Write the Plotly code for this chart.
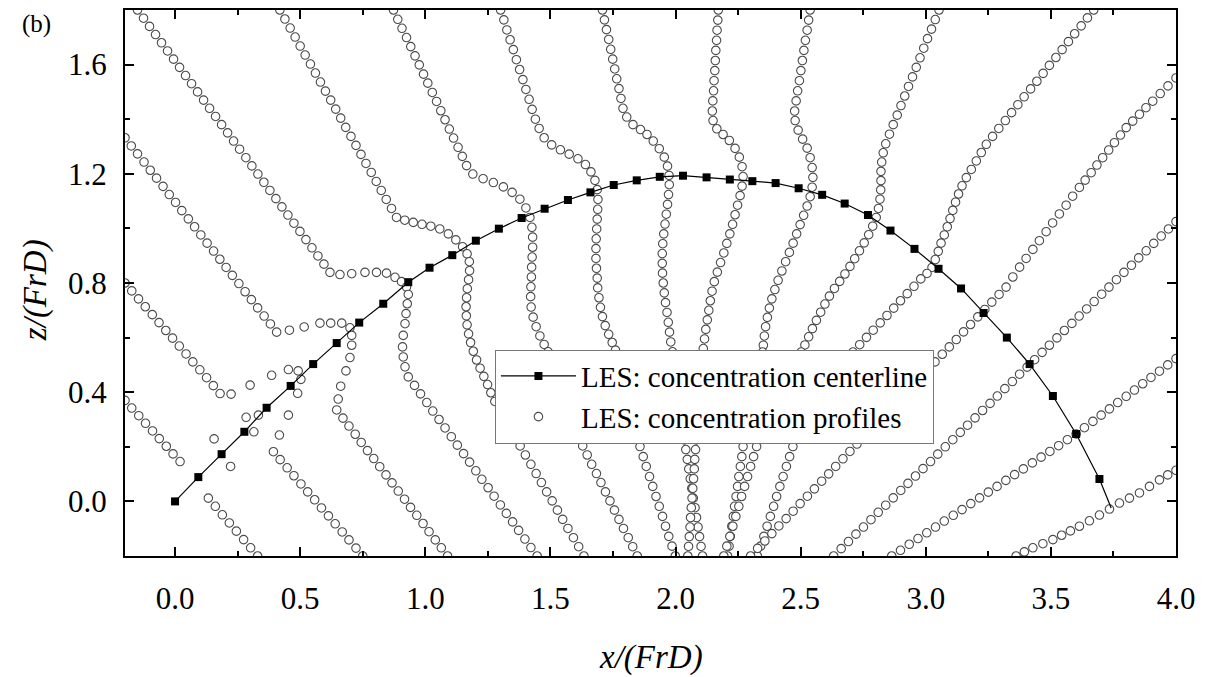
import plotly.graph_objects as go

# ---------------- centerline (LES concentration centerline) ----------------
cl_x = [0.000, 0.093, 0.186, 0.277, 0.366, 0.462, 0.552, 0.646, 0.736, 0.832, 0.932,
        1.017, 1.108, 1.202, 1.294, 1.385, 1.477, 1.570, 1.660, 1.753, 1.845, 1.937,
        2.030, 2.124, 2.217, 2.307, 2.400, 2.492, 2.586, 2.676, 2.769, 2.859, 2.955,
        3.051, 3.141, 3.231, 3.324, 3.415, 3.508, 3.601, 3.694]
cl_z = [0.000, 0.089, 0.173, 0.255, 0.343, 0.423, 0.503, 0.580, 0.655, 0.724, 0.803,
        0.856, 0.902, 0.955, 0.999, 1.038, 1.072, 1.104, 1.132, 1.159, 1.176, 1.189,
        1.193, 1.187, 1.179, 1.173, 1.166, 1.147, 1.123, 1.091, 1.049, 0.992, 0.925,
        0.852, 0.780, 0.690, 0.600, 0.503, 0.386, 0.247, 0.082]
cl_tail_x = [3.694, 3.741]
cl_tail_z = [0.082, -0.024]

# ---------------- concentration profiles (circles) ----------------
pc_x = [-0.200, -0.173, -0.145, -0.118, -0.090, -0.063, -0.035, -0.008, 0.020,
        0.156, 0.284, 0.333, 0.315, 0.222,
        0.133, 0.161, 0.189, 0.217, 0.245, 0.274, 0.302, 0.330]
pc_z = [0.370, 0.342, 0.314, 0.286, 0.258, 0.230, 0.202, 0.174, 0.146,
        0.229, 0.308, 0.316, 0.255, 0.128,
        0.012, -0.018, -0.049, -0.079, -0.109, -0.140, -0.170, -0.200]

pb_x = [-0.200, -0.173, -0.146, -0.119, -0.091, -0.064, -0.037, -0.010, 0.017, 0.044,
        0.071, 0.099, 0.126, 0.153, 0.180, 0.224,
        0.300, 0.386, 0.453, 0.492, 0.503, 0.490, 0.453, 0.417,
        0.393, 0.420, 0.448, 0.475, 0.503, 0.530, 0.558, 0.585, 0.613, 0.640, 0.668,
        0.695, 0.723, 0.750]
pb_z = [0.800, 0.771, 0.742, 0.713, 0.684, 0.655, 0.626, 0.598, 0.569, 0.540,
        0.511, 0.482, 0.453, 0.424, 0.395, 0.393,
        0.426, 0.462, 0.483, 0.478, 0.447, 0.396, 0.316, 0.243,
        0.182, 0.153, 0.123, 0.094, 0.064, 0.035, 0.006, -0.024, -0.053, -0.082, -0.112,
        -0.141, -0.171, -0.200]

pa_x = [-0.200, -0.175, -0.150, -0.124, -0.099, -0.074, -0.048, -0.023, 0.002, 0.027,
        0.053, 0.078, 0.103, 0.128, 0.154, 0.179, 0.204, 0.229, 0.255, 0.280,
        0.305, 0.330, 0.356, 0.381, 0.406,
        0.457, 0.516, 0.579, 0.622, 0.666, 0.699, 0.706, 0.706, 0.699, 0.683, 0.662, 0.652,
        0.646, 0.671, 0.695, 0.720, 0.744, 0.769, 0.794, 0.818, 0.843, 0.867, 0.892,
        0.917, 0.941, 0.966, 0.991, 1.015, 1.040, 1.064, 1.089]
pa_z = [1.332, 1.302, 1.273, 1.243, 1.213, 1.184, 1.154, 1.124, 1.095, 1.065,
        1.035, 1.006, 0.976, 0.946, 0.917, 0.887, 0.857, 0.828, 0.798, 0.768,
        0.739, 0.709, 0.679, 0.650, 0.620,
        0.627, 0.639, 0.653, 0.653, 0.653, 0.636, 0.608, 0.572, 0.527, 0.478, 0.422, 0.375,
        0.335, 0.305, 0.276, 0.246, 0.216, 0.186, 0.157, 0.127, 0.097, 0.068, 0.038,
        0.008, -0.022, -0.051, -0.081, -0.111, -0.141, -0.170, -0.200]

pd_x = [-0.150, -0.126, -0.102, -0.078, -0.054, -0.030, -0.006, 0.018, 0.042, 0.066,
        0.090, 0.114, 0.138, 0.162, 0.186, 0.210, 0.234, 0.258, 0.283, 0.307,
        0.331, 0.355, 0.379, 0.403, 0.427, 0.451, 0.475, 0.499, 0.523, 0.547,
        0.571, 0.595, 0.619,
        0.659, 0.706, 0.759, 0.805, 0.845, 0.879, 0.905, 0.925, 0.932, 0.928, 0.923,
        0.919, 0.912, 0.909, 0.912, 0.919, 0.932,
        0.957, 0.981, 1.006, 1.030, 1.055, 1.079, 1.104, 1.128, 1.153, 1.177, 1.202,
        1.226, 1.251, 1.275, 1.300, 1.324, 1.349, 1.373, 1.398, 1.422, 1.447]
pd_z = [1.800, 1.770, 1.740, 1.710, 1.680, 1.650, 1.620, 1.590, 1.560, 1.530,
        1.500, 1.470, 1.440, 1.410, 1.380, 1.350, 1.320, 1.290, 1.259, 1.229,
        1.199, 1.169, 1.139, 1.109, 1.079, 1.049, 1.019, 0.989, 0.959, 0.929,
        0.899, 0.869, 0.839,
        0.831, 0.834, 0.839, 0.839, 0.836, 0.821, 0.805, 0.785, 0.758, 0.724, 0.688,
        0.651, 0.608, 0.566, 0.529, 0.493, 0.456,
        0.425, 0.394, 0.362, 0.331, 0.300, 0.269, 0.237, 0.206, 0.175, 0.144, 0.112,
        0.081, 0.050, 0.019, -0.013, -0.044, -0.075, -0.106, -0.138, -0.169, -0.200]

pe_x = [0.419, 0.439, 0.460, 0.480, 0.500, 0.520, 0.541, 0.561, 0.581, 0.601,
        0.622, 0.642, 0.662, 0.682, 0.703, 0.723, 0.743, 0.763, 0.784, 0.804,
        0.824, 0.844, 0.865, 0.885,
        0.918, 0.952, 0.987, 1.022, 1.058, 1.092, 1.122, 1.149, 1.167, 1.176,
        1.177, 1.173, 1.168, 1.165, 1.163, 1.164, 1.167, 1.173, 1.181, 1.192,
        1.205, 1.219, 1.234, 1.249, 1.262, 1.278, 1.298, 1.318, 1.338,
        1.358, 1.379, 1.400, 1.422, 1.443, 1.464, 1.485, 1.507, 1.528, 1.549,
        1.570, 1.592, 1.613, 1.634]
pe_z = [1.800, 1.767, 1.734, 1.701, 1.668, 1.635, 1.602, 1.569, 1.536, 1.503,
        1.470, 1.437, 1.404, 1.370, 1.337, 1.304, 1.271, 1.238, 1.205, 1.172,
        1.139, 1.106, 1.073, 1.040,
        1.030, 1.022, 1.015, 1.008, 0.998, 0.980, 0.958, 0.933, 0.907, 0.878,
        0.845, 0.812, 0.779, 0.746, 0.713, 0.680, 0.647, 0.614, 0.582, 0.550,
        0.518, 0.488, 0.458, 0.428, 0.398, 0.366, 0.334, 0.302, 0.270,
        0.237, 0.203, 0.170, 0.136, 0.102, 0.069, 0.035, 0.002, -0.032, -0.066,
        -0.099, -0.133, -0.166, -0.200]

pf_x = [0.873, 0.890, 0.907, 0.925, 0.942, 0.959, 0.976, 0.993, 1.010, 1.028,
        1.045, 1.062, 1.079, 1.096, 1.113, 1.131, 1.148, 1.165,
        1.190, 1.231, 1.272, 1.312, 1.347, 1.378, 1.402, 1.418, 1.426, 1.429,
        1.429, 1.427, 1.425, 1.424, 1.422, 1.421, 1.423, 1.431, 1.443, 1.458,
        1.475, 1.491,
        1.508, 1.525, 1.543, 1.560, 1.575, 1.588, 1.598, 1.605, 1.609,
        1.611, 1.629, 1.647, 1.665, 1.684, 1.702, 1.720, 1.738, 1.756, 1.774,
        1.792, 1.811, 1.829, 1.847]
pf_z = [1.800, 1.766, 1.733, 1.699, 1.666, 1.632, 1.599, 1.565, 1.532, 1.498,
        1.465, 1.431, 1.398, 1.364, 1.331, 1.297, 1.264, 1.230,
        1.199, 1.182, 1.168, 1.152, 1.132, 1.107, 1.075, 1.040, 1.004, 0.968,
        0.931, 0.895, 0.858, 0.822, 0.786, 0.750, 0.712, 0.675, 0.640, 0.606,
        0.575, 0.548,
        0.518, 0.488, 0.458, 0.428, 0.398, 0.366, 0.334, 0.302, 0.270,
        0.237, 0.203, 0.170, 0.136, 0.102, 0.069, 0.035, 0.002, -0.032, -0.066,
        -0.099, -0.133, -0.166, -0.200]

pg_x = [1.301, 1.314, 1.326, 1.339, 1.352, 1.364, 1.377, 1.390, 1.402, 1.415, 1.427, 1.440,
        1.455, 1.475, 1.505, 1.540, 1.575, 1.610, 1.640, 1.662, 1.678, 1.687, 1.690,
        1.689, 1.687, 1.685, 1.683, 1.682, 1.682, 1.684, 1.687, 1.689, 1.694, 1.700,
        1.708, 1.719, 1.733, 1.747, 1.760,
        1.772, 1.784, 1.795, 1.805, 1.814, 1.822, 1.829, 1.835, 1.840,
        1.845, 1.858, 1.871, 1.883, 1.896, 1.909, 1.922, 1.935, 1.948, 1.960, 1.973,
        1.986, 1.999]
pg_z = [1.800, 1.764, 1.727, 1.691, 1.655, 1.618, 1.582, 1.545, 1.509, 1.473, 1.436, 1.400,
        1.366, 1.332, 1.306, 1.288, 1.272, 1.255, 1.234, 1.207, 1.176, 1.142, 1.106,
        1.070, 1.034, 0.998, 0.962, 0.926, 0.890, 0.854, 0.818, 0.782, 0.746, 0.711,
        0.677, 0.644, 0.612, 0.582, 0.554,
        0.522, 0.490, 0.457, 0.424, 0.391, 0.358, 0.325, 0.292, 0.262,
        0.237, 0.201, 0.164, 0.128, 0.091, 0.055, 0.018, -0.018, -0.055, -0.091, -0.128,
        -0.164, -0.200]

ph_x = [1.708, 1.716, 1.724, 1.733, 1.741, 1.749, 1.757, 1.765, 1.774, 1.782, 1.790,
        1.805, 1.830, 1.860, 1.886, 1.911, 1.935, 1.955, 1.968, 1.974, 1.975, 1.972,
        1.968, 1.963, 1.958, 1.953, 1.949, 1.947, 1.947, 1.948, 1.951, 1.955, 1.960,
        1.966, 1.971, 1.976, 1.981, 1.988,
        1.993, 1.998, 2.004, 2.010, 2.016, 2.022, 2.027, 2.031,
        2.035, 2.041, 2.047, 2.053, 2.059, 2.065, 2.071, 2.078, 2.084, 2.090, 2.096,
        2.102, 2.108]
ph_z = [1.800, 1.764, 1.728, 1.692, 1.656, 1.620, 1.584, 1.548, 1.512, 1.476, 1.440,
        1.408, 1.380, 1.362, 1.344, 1.320, 1.292, 1.261, 1.228, 1.194, 1.160, 1.124,
        1.088, 1.052, 1.016, 0.980, 0.944, 0.908, 0.872, 0.836, 0.800, 0.764, 0.728,
        0.692, 0.656, 0.620, 0.584, 0.548,
        0.512, 0.476, 0.440, 0.404, 0.368, 0.332, 0.296, 0.260,
        0.225, 0.190, 0.154, 0.119, 0.083, 0.048, 0.012, -0.023, -0.059, -0.094, -0.129,
        -0.165, -0.200]

pi_x = [2.171, 2.169, 2.166, 2.164, 2.161, 2.159, 2.157, 2.154, 2.152, 2.149, 2.147,
        2.150, 2.165, 2.190, 2.215, 2.238, 2.255, 2.266, 2.270, 2.266, 2.258, 2.248,
        2.238, 2.228, 2.217, 2.205, 2.193, 2.180, 2.167, 2.155, 2.146, 2.139, 2.133,
        2.127, 2.121, 2.116, 2.111,
        2.108, 2.105, 2.102, 2.099, 2.096, 2.093, 2.090, 2.087, 2.085,
        2.083, 2.080, 2.077, 2.075, 2.072, 2.069, 2.066, 2.063, 2.060, 2.058, 2.055,
        2.052, 2.049]
pi_z = [1.800, 1.763, 1.726, 1.689, 1.652, 1.615, 1.578, 1.541, 1.504, 1.467, 1.430,
        1.395, 1.365, 1.344, 1.322, 1.293, 1.261, 1.226, 1.190, 1.155, 1.120, 1.085,
        1.050, 1.015, 0.980, 0.945, 0.910, 0.875, 0.840, 0.805, 0.770, 0.735, 0.700,
        0.665, 0.630, 0.595, 0.560,
        0.525, 0.490, 0.455, 0.420, 0.385, 0.350, 0.315, 0.280, 0.250,
        0.225, 0.190, 0.154, 0.119, 0.083, 0.048, 0.012, -0.023, -0.059, -0.094, -0.129,
        -0.165, -0.200]

pj_x = [2.538, 2.532, 2.526, 2.519, 2.513, 2.507, 2.501, 2.495, 2.488, 2.482, 2.476,
        2.478, 2.490, 2.508, 2.526, 2.538, 2.546, 2.549, 2.546, 2.538, 2.526, 2.512,
        2.498, 2.484, 2.470, 2.455, 2.440, 2.425, 2.410, 2.397, 2.385, 2.375, 2.367,
        2.360, 2.355, 2.351, 2.348,
        2.340, 2.332, 2.324, 2.316, 2.308, 2.300, 2.292, 2.284,
        2.276, 2.270, 2.265, 2.259, 2.253, 2.248, 2.242, 2.236, 2.231, 2.225, 2.219,
        2.214, 2.208]
pj_z = [1.800, 1.763, 1.726, 1.689, 1.652, 1.615, 1.578, 1.541, 1.504, 1.467, 1.430,
        1.395, 1.360, 1.327, 1.294, 1.259, 1.223, 1.187, 1.151, 1.116, 1.082, 1.048,
        1.014, 0.980, 0.946, 0.912, 0.878, 0.844, 0.810, 0.776, 0.742, 0.708, 0.674,
        0.640, 0.606, 0.572, 0.547,
        0.512, 0.478, 0.443, 0.409, 0.375, 0.340, 0.306, 0.271,
        0.237, 0.201, 0.164, 0.128, 0.091, 0.055, 0.018, -0.018, -0.055, -0.091, -0.128,
        -0.164, -0.200]

pk_x = [3.053, 3.038, 3.023, 3.007, 2.992, 2.977, 2.962, 2.947, 2.931, 2.916,
        2.901, 2.886, 2.870, 2.855, 2.840,
        2.830, 2.824, 2.821, 2.821, 2.820, 2.817, 2.811, 2.802, 2.788, 2.772,
        2.754, 2.735, 2.716, 2.697, 2.677, 2.656, 2.635, 2.615, 2.597, 2.580,
        2.563, 2.547, 2.532, 2.517, 2.502,
        2.484, 2.465, 2.447, 2.428, 2.410, 2.391, 2.373, 2.354,
        2.336, 2.324, 2.312, 2.300, 2.288, 2.276, 2.264, 2.253, 2.241, 2.229, 2.217,
        2.205, 2.193]
pk_z = [1.800, 1.765, 1.730, 1.695, 1.660, 1.625, 1.590, 1.555, 1.520, 1.485,
        1.450, 1.415, 1.380, 1.345, 1.310,
        1.277, 1.243, 1.209, 1.175, 1.141, 1.107, 1.073, 1.040, 1.008, 0.977,
        0.947, 0.918, 0.889, 0.861, 0.833, 0.806, 0.780, 0.752, 0.723, 0.693,
        0.663, 0.633, 0.603, 0.573, 0.547,
        0.513, 0.478, 0.444, 0.409, 0.375, 0.340, 0.306, 0.271,
        0.237, 0.201, 0.164, 0.128, 0.091, 0.055, 0.018, -0.018, -0.055, -0.091, -0.128,
        -0.164, -0.200]

pl_x = [3.671, 3.646, 3.621, 3.595, 3.570, 3.545, 3.520, 3.494, 3.469, 3.444,
        3.419, 3.393, 3.368, 3.343, 3.318, 3.292, 3.267, 3.242,
        3.222, 3.202, 3.182, 3.162, 3.145, 3.131, 3.119, 3.108, 3.097, 3.086,
        3.074, 3.061, 3.050, 3.038, 3.025, 3.005,
        2.980, 2.953, 2.926, 2.899, 2.872, 2.845, 2.818, 2.790, 2.763, 2.736, 2.709,
        2.686, 2.664, 2.641, 2.618, 2.596, 2.573, 2.550, 2.527, 2.505,
        2.482, 2.469, 2.456, 2.443, 2.430, 2.417, 2.404, 2.392, 2.379, 2.366, 2.353,
        2.340, 2.327]
pl_z = [1.800, 1.771, 1.742, 1.713, 1.684, 1.655, 1.626, 1.597, 1.568, 1.539,
        1.511, 1.482, 1.453, 1.424, 1.395, 1.366, 1.337, 1.308,
        1.278, 1.247, 1.216, 1.186, 1.156, 1.126, 1.096, 1.066, 1.036, 1.006,
        0.976, 0.946, 0.916, 0.886, 0.857, 0.835,
        0.815, 0.788, 0.761, 0.735, 0.708, 0.681, 0.654, 0.627, 0.601, 0.574, 0.547,
        0.516, 0.485, 0.454, 0.423, 0.392, 0.361, 0.330, 0.299, 0.268,
        0.237, 0.201, 0.164, 0.128, 0.091, 0.055, 0.018, -0.018, -0.055, -0.091, -0.128,
        -0.164, -0.200]

pm_x = [4.000, 3.968, 3.937, 3.907, 3.880, 3.854, 3.827, 3.801, 3.778, 3.754,
        3.731, 3.707, 3.684, 3.661, 3.637, 3.614, 3.587, 3.561, 3.534, 3.507,
        3.481, 3.454, 3.428, 3.401, 3.375, 3.348, 3.321,
        3.293, 3.264, 3.236, 3.208, 3.179, 3.151, 3.122, 3.094, 3.066, 3.037,
        3.009, 2.981, 2.952, 2.924, 2.896, 2.867, 2.839, 2.810, 2.782, 2.754,
        2.725, 2.697, 2.669, 2.640, 2.612, 2.584, 2.555, 2.527, 2.498, 2.470,
        2.442, 2.413, 2.385, 2.357, 2.328, 2.300]
pm_z = [1.551, 1.522, 1.494, 1.466, 1.442, 1.418, 1.393, 1.369, 1.342, 1.314,
        1.287, 1.259, 1.232, 1.204, 1.177, 1.150, 1.118, 1.085, 1.053, 1.020,
        0.988, 0.955, 0.923, 0.890, 0.858, 0.822, 0.785,
        0.758, 0.730, 0.703, 0.676, 0.648, 0.621, 0.593, 0.566, 0.539, 0.511,
        0.484, 0.457, 0.429, 0.402, 0.375, 0.347, 0.320, 0.293, 0.265, 0.238,
        0.210, 0.183, 0.156, 0.128, 0.101, 0.074, 0.046, 0.019, -0.008, -0.036,
        -0.063, -0.090, -0.118, -0.145, -0.172, -0.200]

pn_x = [4.000, 3.970, 3.941, 3.911, 3.881, 3.851, 3.822, 3.792, 3.762, 3.732,
        3.703, 3.673, 3.643, 3.613, 3.584, 3.554, 3.524, 3.494, 3.465, 3.435,
        3.405, 3.375, 3.346, 3.316, 3.286, 3.257, 3.227, 3.197, 3.167, 3.138,
        3.108, 3.078, 3.048, 3.019, 2.989, 2.959, 2.929, 2.900, 2.870, 2.840,
        2.810, 2.781, 2.751, 2.721, 2.691, 2.662, 2.632]
pn_z = [1.025, 0.998, 0.972, 0.945, 0.918, 0.892, 0.865, 0.839, 0.812, 0.785,
        0.759, 0.732, 0.705, 0.679, 0.652, 0.626, 0.599, 0.572, 0.546, 0.519,
        0.492, 0.466, 0.439, 0.413, 0.386, 0.359, 0.333, 0.306, 0.279, 0.253,
        0.226, 0.200, 0.173, 0.146, 0.120, 0.093, 0.066, 0.040, 0.013, -0.014,
        -0.040, -0.067, -0.094, -0.120, -0.147, -0.173, -0.200]

po_x = [4.000, 3.967, 3.934, 3.900, 3.867, 3.834, 3.801, 3.767, 3.734, 3.701,
        3.668, 3.634, 3.601,
        3.566, 3.531, 3.496, 3.461, 3.426, 3.390, 3.355, 3.320, 3.285, 3.250,
        3.215, 3.180, 3.145, 3.110, 3.074, 3.039, 3.004, 2.969, 2.934, 2.899, 2.864]
po_z = [0.523, 0.500, 0.477, 0.454, 0.431, 0.408, 0.385, 0.362, 0.339, 0.316,
        0.293, 0.270, 0.247,
        0.226, 0.204, 0.183, 0.162, 0.141, 0.119, 0.098, 0.077, 0.055, 0.034,
        0.013, -0.008, -0.030, -0.051, -0.072, -0.094, -0.115, -0.136, -0.157, -0.179, -0.200]

pp_x = [4.000, 3.967, 3.934, 3.894, 3.854, 3.814, 3.774, 3.734, 3.694, 3.654,
        3.614, 3.578, 3.543, 3.508, 3.468, 3.428, 3.394, 3.361]
pp_z = [0.114, 0.097, 0.079, 0.055, 0.031, 0.012, -0.006, -0.028, -0.050, -0.071,
        -0.091, -0.108, -0.124, -0.140, -0.155, -0.170, -0.185, -0.200]

profiles = [(pc_x, pc_z), (pb_x, pb_z), (pa_x, pa_z), (pd_x, pd_z), (pe_x, pe_z),
            (pf_x, pf_z), (pg_x, pg_z), (ph_x, ph_z), (pi_x, pi_z), (pj_x, pj_z),
            (pk_x, pk_z), (pl_x, pl_z), (pm_x, pm_z), (pn_x, pn_z), (po_x, po_z),
            (pp_x, pp_z)]

all_x, all_z = [], []
for px, pz in profiles:
    all_x += list(px)
    all_z += list(pz)

SERIF = "Liberation Serif, Times New Roman, serif"

fig = go.Figure()
fig.add_trace(go.Scatter(
    x=all_x, y=all_z, mode="markers", name="LES: concentration profiles",
    marker=dict(symbol="circle", size=8.5, color="white",
                line=dict(color="#4a4a4a", width=1.1)),
))
fig.add_trace(go.Scatter(
    x=cl_tail_x, y=cl_tail_z, mode="lines", showlegend=False,
    line=dict(color="black", width=1.2),
))
fig.add_trace(go.Scatter(
    x=cl_x, y=cl_z, mode="lines+markers", name="LES: concentration centerline",
    line=dict(color="black", width=1.2),
    marker=dict(symbol="square", size=8, color="black"),
))

axis_common = dict(
    showline=True, linecolor="black", linewidth=2, mirror="ticks",
    ticks="inside", ticklen=9, tickwidth=1.5, tickcolor="black",
    showgrid=False, zeroline=False,
    tickfont=dict(family=SERIF, size=31, color="black"),
)

fig.update_layout(
    width=1221, height=677,
    margin=dict(l=125, r=45, t=8, b=121),
    paper_bgcolor="white", plot_bgcolor="white",
    showlegend=True,
    legend=dict(
        x=0.352, y=0.378, xanchor="left", yanchor="top",
        bgcolor="white", bordercolor="#777777", borderwidth=1,
        font=dict(family=SERIF, size=29, color="black"),
        traceorder="reversed", itemwidth=75, tracegroupgap=0,
    ),
    xaxis=dict(range=[-0.2, 4.0], tick0=0, dtick=0.5, tickformat=".1f",
               minor=dict(dtick=0.25, ticks="inside", ticklen=5, tickcolor="black"),
               ticklabelstandoff=14, **axis_common),
    yaxis=dict(range=[-0.2, 1.8], tick0=0, dtick=0.4, tickformat=".1f",
               minor=dict(dtick=0.2, ticks="inside", ticklen=5, tickcolor="black"),
               ticklabelstandoff=10, **axis_common),
    annotations=[
        dict(text="<i>x/(FrD)</i>", xref="paper", yref="paper", x=0.5, y=-0.186,
             xanchor="center", yanchor="middle", showarrow=False,
             font=dict(family=SERIF, size=33, color="black")),
        dict(text="<i>z/(FrD)</i>", xref="paper", yref="paper", x=-0.0856, y=0.487,
             xanchor="center", yanchor="middle", showarrow=False, textangle=-90,
             font=dict(family=SERIF, size=33, color="black")),
        dict(text="(b)", xref="paper", yref="paper", x=-0.084, y=0.974,
             xanchor="center", yanchor="middle", showarrow=False,
             font=dict(family=SERIF, size=25, color="black")),
    ],
)

fig.write_html("out.html")
